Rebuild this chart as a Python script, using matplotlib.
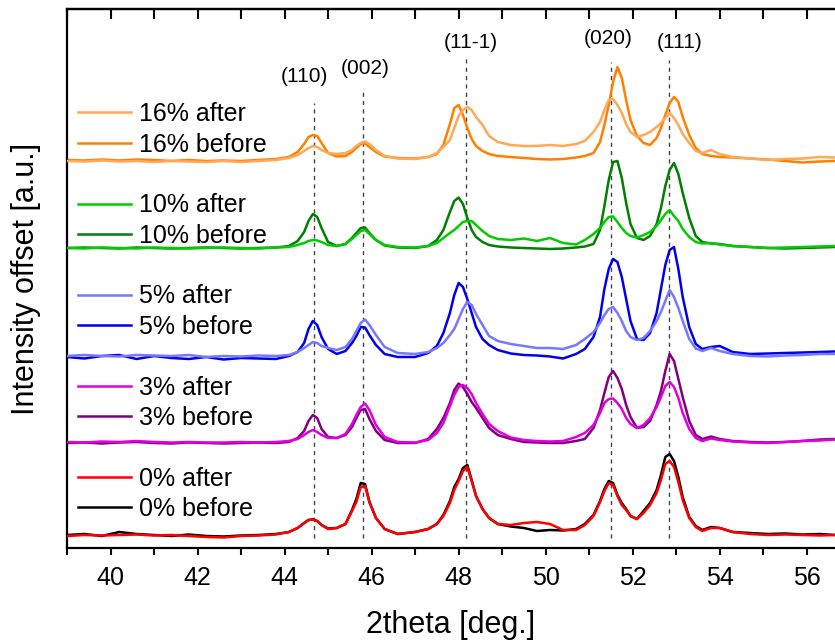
import matplotlib
matplotlib.use("Agg")
import matplotlib.pyplot as plt
from matplotlib.lines import Line2D
from matplotlib.ticker import MultipleLocator

# --- Data (intensity relative to each pair's baseline) ---
two_theta = [39.0, 39.4, 39.8, 40.2, 40.6, 41.0, 41.4, 41.8, 42.2, 42.6, 43.0, 43.4, 43.8,
             44.1, 44.3, 44.45, 44.55, 44.65, 44.75, 44.85, 45.0, 45.2, 45.4, 45.55, 45.65,
             45.75, 45.85, 45.95, 46.1, 46.3, 46.6,
             47.0, 47.3, 47.5, 47.65, 47.8, 47.9, 48.0, 48.1, 48.2, 48.3, 48.4, 48.55, 48.7,
             48.9, 49.2, 49.5, 49.8, 50.1, 50.4, 50.7, 50.9,
             51.1, 51.25, 51.35, 51.45, 51.55, 51.65, 51.75, 51.85, 51.95, 52.1, 52.25, 52.4,
             52.55, 52.65, 52.75, 52.85, 52.95, 53.05, 53.15, 53.3, 53.45, 53.6, 53.8,
             54.0, 54.3, 54.7, 55.1, 55.5, 55.9, 56.3, 56.65]

before_16 = [0, -0.5, 0.5, -0.5, 0.5, 0, -1, 0, -1, -0.5, -1, 0, 1,
             3, 8, 16, 23, 25, 24, 17, 7, 3.5, 4, 8, 12, 16, 16.5, 13, 8, 3.5, 2,
             1.5, 3, 6, 15, 36, 52, 55, 45, 32, 21, 14, 9, 6, 4, 3, 2, 1, 0.5, 1, 2.5, 4,
             7, 18, 35, 55, 78, 93, 82, 60, 40, 24, 17, 15, 22, 32, 45, 57, 63, 58, 43, 25, 12, 6, 4,
             3, 2.5, 1.5, 0.5, -1, -2.5, -1.5, -1]
after_16 = [-1, -1.5, -0.5, -1.5, -1, -2, -1, -1.5, -2, -1, -2, -1, 0,
            2, 5, 9, 12, 14, 13, 10, 7, 6, 7, 10, 14, 17, 18.5, 16, 10, 4, 1.5,
            1, 3, 7, 13, 20, 32, 44, 50, 53, 50, 43, 35, 24, 18, 15, 14, 14, 15, 14, 16, 19,
            28, 38, 50, 60, 61, 55, 47, 36, 28, 23, 25, 28, 33, 37, 42, 47, 42, 35, 26, 17, 9, 7, 10,
            6, 3, 1.5, 0, 1, 1.5, 3, 2.5]

before_10 = [0, 0.5, 0, -0.5, 0.5, 0, -0.5, 0, 0.5, 0, -0.5, 0, 0.5,
             2, 7, 16, 27, 34, 31, 20, 6, 2, 4, 10, 15, 20, 20.5, 15, 8, 2.5, 0.5,
             0, 2, 8, 18, 36, 47, 50.5, 44, 30, 18, 11, 6, 3, 1.5, 0.5, 0, -0.5, -1, -0.5, 0.5, 1.5,
             4, 18, 42, 68, 86, 87, 70, 45, 24, 10, 8, 12, 24, 40, 62, 78, 85, 74, 55, 30, 12, 6, 4.5,
             4, 2, 1, 0, -0.5, 0, 0.5, 1]
after_10 = [0, -0.5, 0.5, 0, -0.5, 0.5, 0, -0.5, 0, 0.5, 0, -0.5, 0.5,
            1, 3, 5, 7, 8, 7.5, 6, 3, 2, 4, 9, 13, 17, 18, 14, 8, 3, 1,
            0.5, 2, 5, 10, 15, 18, 22, 26, 27, 27, 23, 17, 12, 9, 8, 9.5, 7, 10, 5, 3.5, 8,
            14, 20, 26, 31, 31.5, 26, 20, 15, 12, 10.5, 13, 16, 22, 28, 34, 38, 32, 27, 19, 11, 6, 4.5, 5,
            3.5, 2, 1, 0, 0.5, 1, 1.5, 2]

before_5 = [0, -1.5, 1, 2, -2, 1, -1, -2, 0, -2.5, -1, -1.5, -2,
            1, 5, 14, 28, 36, 32, 20, 8, 3, 6, 14, 21, 30, 29.5, 22, 12, 3, 0,
            0, 4, 11, 24, 44, 62, 74, 70, 58, 44, 30, 18, 12, 7, 3.5, 2, 1.5, 0.5, -1.5, 3, 8,
            20, 40, 68, 88, 98, 95, 80, 58, 36, 18, 17, 24, 44, 68, 92, 107, 110, 88, 60, 30, 13, 8, 10,
            11, 5, 3, 3.5, 4, 4.5, 5, 5.5]
after_5 = [1, 2, 1, 0.5, 2, 1.5, 1, 2, 0, 1, 0.5, 1.5, 1,
           2, 5, 9, 12, 15, 14, 11, 9, 7, 10, 18, 26, 34, 37.5, 32, 22, 10, 4,
           3, 5, 9, 14, 22, 28, 38, 48, 55, 52, 43, 32, 21, 16, 13, 11, 9, 9, 8, 12, 18,
           25, 34, 42, 48, 50, 44, 36, 26, 20, 17, 19, 26, 36, 45, 56, 67, 60, 49, 36, 18, 8.5, 6, 9,
           6, 3, 1, 0.5, 1.5, 2, 3, 3]

before_3 = [0, 0.5, -0.5, 0.5, 1, 0, -0.5, 0.5, 0, -0.5, 0, 0.5, 0,
            1, 5, 12, 22, 28, 25, 14, 6, 5, 8, 16, 25, 33, 34, 24, 12, 3, 0,
            0, 4, 14, 25, 40, 53, 59.5, 56, 49, 41, 35, 25, 15, 8, 4, 1, 0.5, 0, 0, 2, 4,
            15, 33, 50, 66, 72, 65, 54, 38, 26, 15, 16, 22, 38, 52, 72, 89, 82, 64, 46, 22, 8, 4, 6.5,
            4, 2, 1, 0.5, 1, 2, 3.5, 4]
after_3 = [1, 0.5, 1.5, 1, 2, 1, 0.5, 1, 0.5, 0.5, 1, 0.5, 1,
           2, 4, 8, 11, 13, 11, 8, 5, 5, 9, 19, 28, 36, 39.5, 33, 18, 6, 1,
           0.5, 3, 10, 20, 37, 48, 56, 58, 55, 49, 40, 29, 19, 12, 5.5, 3, 2, 1.5, 2, 6, 10,
           18, 30, 40, 44, 44.5, 40, 34, 25, 19, 15, 18, 25, 36, 46, 57, 61, 56, 45, 30, 14, 5, 2, 4.5,
           3, 1.5, 0.5, 0, 1, 2, 2.5, 3.5]

before_0 = [0, 1, -1, 3, 1, 0, -1, 0.5, -1, -1.5, -0.5, 0, 1,
            3, 7, 12, 15, 15.5, 14, 10, 6.5, 7, 11, 25, 36, 52, 51, 33, 17, 6, 1,
            3, 6, 11, 20, 34, 48, 56, 67, 70, 55, 39, 26, 17, 11, 8.5, 7, 4, 5, 4.5, 6, 11,
            20, 34, 46, 54, 52, 40, 32, 26, 19, 16, 24, 32, 45, 60, 78, 81, 74, 58, 38, 18, 9, 5, 8,
            7, 3, 2, 1, 1.5, 0.5, 1, 0]
after_0 = [-1, 0, -0.5, 0, 0.5, -0.5, 0, -1, -2, -2.5, -1, -0.5, 0.5,
           3, 7, 12, 15, 15.5, 14, 10, 6, 7, 11, 24, 33, 48, 49, 33, 17, 6, 1,
           3, 6, 11, 19, 32, 45, 54, 64, 68, 54, 39, 26, 17, 11, 10, 12, 13, 11, 5, 5, 10,
           19, 33, 44, 52, 50, 39, 30, 25, 19, 16, 22, 30, 42, 55, 71, 74, 68, 53, 35, 17, 8, 4, 7,
           7, 3, 1, 0, 0.5, 0, -0.5, 0]

samples = ["16%", "10%", "5%", "3%", "0%"]
offsets = [388, 300, 191, 105, 13]
curves_before = [before_16, before_10, before_5, before_3, before_0]
curves_after = [after_16, after_10, after_5, after_3, after_0]
colors_before = ["#FF7F00", "#007F00", "#0000EE", "#800080", "#000000"]
colors_after = ["#FFA855", "#00CC00", "#7777FF", "#E000E0", "#FF0000"]

# reflections (position, label, label x, label y, top of dashed line)
peak_pos = [44.67, 45.80, 48.18, 51.51, 52.84]
peak_names = ["(110)", "(002)", "(11-1)", "(020)", "(111)"]
label_x = [44.46, 45.85, 48.27, 51.44, 53.07]
label_y = [471, 480, 506, 509, 505]
line_top = [445, 459, 491, 486, 488]


def desenhar():
    plt.rcParams['font.family'] = ['Liberation Sans', 'DejaVu Sans']
    fig = plt.figure(figsize=(8.35, 6.43), dpi=100)
    ax = fig.add_axes([67 / 835, 95 / 643, 768 / 835, 539 / 643])

    # dashed reflection markers
    for pos, top in zip(peak_pos, line_top):
        ax.vlines(pos, 10, top, colors="#444444", linestyles=(0, (3, 3)), linewidth=1, zorder=1)
    for name, x, y in zip(peak_names, label_x, label_y):
        ax.text(x, y, name, ha="center", va="center", fontsize=15)

    handles = []
    for i, s in enumerate(samples):
        yb = [v + offsets[i] for v in curves_before[i]]
        ya = [v + offsets[i] for v in curves_after[i]]
        hb, = ax.plot(two_theta, yb, color=colors_before[i], lw=1.8, zorder=2)
        ha, = ax.plot(two_theta, ya, color=colors_after[i], lw=1.8, zorder=3)
        ha.set_label(s + " after")
        hb.set_label(s + " before")
        handles += [ha, hb]
        if i < len(samples) - 1:
            handles.append(Line2D([], [], color="none", label=" "))

    ax.legend(handles=handles, loc="upper left", bbox_to_anchor=(0.014, 0.827),
              frameon=False, fontsize=18, handlelength=2.12, handletextpad=0.32,
              labelspacing=0.255, borderpad=0, borderaxespad=0)

    ax.set_xlim(39, 56.65)
    ax.set_ylim(0, 539)
    ax.set_yticks([])
    ax.xaxis.set_major_locator(MultipleLocator(2))
    ax.xaxis.set_minor_locator(MultipleLocator(1))
    ax.tick_params(axis="x", which="both", direction="out", length=5, width=1.5,
                   labelsize=18, pad=8, top=False)
    for side in ["left", "bottom", "top"]:
        ax.spines[side].set_linewidth(1.6)
    ax.spines["right"].set_visible(False)

    # top ticks pointing inward
    sec = ax.secondary_xaxis("top")
    sec.xaxis.set_major_locator(MultipleLocator(1))
    sec.tick_params(direction="in", length=7, width=1.5, labeltop=False)
    sec.spines["top"].set_linewidth(1.6)

    ax.set_xlabel("2theta [deg.]", fontsize=22, labelpad=14)
    ax.set_ylabel("Intensity offset [a.u.]", fontsize=22)
    ax.yaxis.set_label_coords(-0.034, 0.5)

    fig.savefig("out.png", dpi=100)


if __name__ == "__main__":
    desenhar()
